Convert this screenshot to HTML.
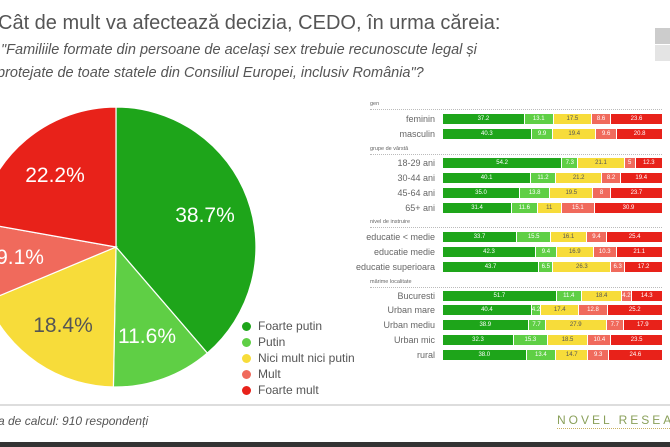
<!DOCTYPE html>
<html><head><meta charset="utf-8"><style>
body{margin:0;width:670px;height:447px;overflow:hidden;background:#fff;font-family:"Liberation Sans",sans-serif;position:relative}
.a{position:absolute;white-space:nowrap}
.t{left:-2px;top:12px;font-size:20px;color:#555}
.s{font-size:14.5px;font-style:italic;color:#555;left:-3px}
.lab{position:absolute;font-size:21px;color:#fff;transform:translate(-50%,-50%)}
.leg{position:absolute;left:242px;font-size:12px;color:#555}
.leg i{display:inline-block;width:9px;height:9px;border-radius:50%;margin-right:7px;vertical-align:-1px}
.h{position:absolute;left:370px;font-size:5.5px;color:#666;width:292px;border-bottom:1px dotted #bbb;padding-bottom:2px}
.r{position:absolute;left:360px;width:303px;height:10px}
.r span.n{position:absolute;right:228px;top:0;font-size:9px;line-height:10px;color:#666;text-align:right;white-space:nowrap}
.bar{position:absolute;left:83px;width:220px;height:10px;display:flex}
.bar div{height:10px;border-right:1px solid #fff;font-size:6px;line-height:10px;text-align:center;color:#fff;box-sizing:border-box;overflow:hidden}
.g{background:#1ea51a}.l{background:#5fcf45}.y{background:#f7dc3a;color:#555!important}.m{background:#f06a5c}.f{background:#e8221a}
</style></head><body>
<div class="a t">Cât de mult va afectează decizia, CEDO, în urma căreia:</div>
<div class="a s" style="top:42px">&nbsp;"Familiile formate din persoane de același sex trebuie recunoscute legal și</div>
<div class="a s" style="top:65px">protejate de toate statele din Consiliul Europei, inclusiv România"?</div>
<div class="a" style="left:655px;top:28px;width:15px;height:16px;background:#ccc"></div>
<div class="a" style="left:655px;top:45px;width:15px;height:16px;background:#e4e4e4"></div>
<svg class="a" style="left:0;top:0" width="670" height="447">
<g stroke="#fff" stroke-width="1.2">
<path d="M116 247 L116 107 A140 140 0 0 1 207.3 353.1Z" fill="#1ea51a"/>
<path d="M116 247 L207.3 353.1 A140 140 0 0 1 113.4 387Z" fill="#5fcf45"/>
<path d="M116 247 L113.4 387 A140 140 0 0 1 -13.2 301Z" fill="#f7dc3a"/>
<path d="M116 247 L-13.2 301 A140 140 0 0 1 -21.8 222.5Z" fill="#f06a5c"/>
<path d="M116 247 L-21.8 222.5 A140 140 0 0 1 116 107Z" fill="#e8221a"/>
</g>
<line x1="0" y1="405" x2="670" y2="405" stroke="#bbb"/>
<rect x="0" y="442" width="670" height="5" fill="#333"/>
</svg>
<div class="lab" style="left:205px;top:216px">38.7%</div>
<div class="lab" style="left:147px;top:337px">11.6%</div>
<div class="lab" style="left:63px;top:326px;color:#555">18.4%</div>
<div class="lab" style="left:20px;top:258px">9.1%</div>
<div class="lab" style="left:55px;top:176px">22.2%</div>
<div class="leg" style="top:319px"><i style="background:#1ea51a"></i>Foarte putin</div>
<div class="leg" style="top:335px"><i style="background:#5fcf45"></i>Putin</div>
<div class="leg" style="top:351px"><i style="background:#f7dc3a"></i>Nici mult nici putin</div>
<div class="leg" style="top:367px"><i style="background:#f06a5c"></i>Mult</div>
<div class="leg" style="top:383px"><i style="background:#e8221a"></i>Foarte mult</div>
<div class="a" style="left:-2px;top:414px;font-size:12px;font-style:italic;color:#555">a de calcul: 910 respondenți</div>
<div class="a" style="left:557px;top:413px;font-size:12px;letter-spacing:3px;color:#8aa05a">NOVEL RESEA</div>
<div class="a" style="left:557px;top:428px;width:113px;border-top:1px dotted #c8b060"></div>

<div class="h" style="top:101px">gen</div>
<div class="h" style="top:146px">grupe de vârstă</div>
<div class="h" style="top:219px">nivel de instruire</div>
<div class="h" style="top:279px">mărime localitate</div>

<div class="r" style="top:114px"><span class="n">feminin</span><div class="bar"><div class="g" style="width:37.2%">37.2</div><div class="l" style="width:13.1%">13.1</div><div class="y" style="width:17.5%">17.5</div><div class="m" style="width:8.6%">8.6</div><div class="f" style="width:23.6%">23.6</div></div></div>
<div class="r" style="top:129px"><span class="n">masculin</span><div class="bar"><div class="g" style="width:40.3%">40.3</div><div class="l" style="width:9.9%">9.9</div><div class="y" style="width:19.4%">19.4</div><div class="m" style="width:9.6%">9.6</div><div class="f" style="width:20.8%">20.8</div></div></div>

<div class="r" style="top:158px"><span class="n">18-29 ani</span><div class="bar"><div class="g" style="width:54.2%">54.2</div><div class="l" style="width:7.3%">7.3</div><div class="y" style="width:21.1%">21.1</div><div class="m" style="width:5%">5</div><div class="f" style="width:12.4%">12.3</div></div></div>
<div class="r" style="top:173px"><span class="n">30-44 ani</span><div class="bar"><div class="g" style="width:40.1%">40.1</div><div class="l" style="width:11.2%">11.2</div><div class="y" style="width:21.2%">21.2</div><div class="m" style="width:8.2%">8.2</div><div class="f" style="width:19.3%">19.4</div></div></div>
<div class="r" style="top:188px"><span class="n">45-64 ani</span><div class="bar"><div class="g" style="width:35%">35.0</div><div class="l" style="width:13.8%">13.8</div><div class="y" style="width:19.5%">19.5</div><div class="m" style="width:8%">8</div><div class="f" style="width:23.7%">23.7</div></div></div>
<div class="r" style="top:203px"><span class="n">65+ ani</span><div class="bar"><div class="g" style="width:31.4%">31.4</div><div class="l" style="width:11.6%">11.6</div><div class="y" style="width:11%">11</div><div class="m" style="width:15.1%">15.1</div><div class="f" style="width:30.9%">30.9</div></div></div>

<div class="r" style="top:232px"><span class="n">educatie &lt; medie</span><div class="bar"><div class="g" style="width:33.7%">33.7</div><div class="l" style="width:15.5%">15.5</div><div class="y" style="width:16.1%">16.1</div><div class="m" style="width:9.4%">9.4</div><div class="f" style="width:25.3%">25.4</div></div></div>
<div class="r" style="top:247px"><span class="n">educatie medie</span><div class="bar"><div class="g" style="width:42.3%">42.3</div><div class="l" style="width:9.4%">9.4</div><div class="y" style="width:16.9%">16.9</div><div class="m" style="width:10.3%">10.3</div><div class="f" style="width:21.1%">21.1</div></div></div>
<div class="r" style="top:262px"><span class="n">educatie superioara</span><div class="bar"><div class="g" style="width:43.7%">43.7</div><div class="l" style="width:6.5%">6.5</div><div class="y" style="width:26.3%">26.3</div><div class="m" style="width:6.3%">6.3</div><div class="f" style="width:17.2%">17.2</div></div></div>

<div class="r" style="top:291px"><span class="n">Bucuresti</span><div class="bar"><div class="g" style="width:51.7%">51.7</div><div class="l" style="width:11.4%">11.4</div><div class="y" style="width:18.4%">18.4</div><div class="m" style="width:4.2%">4.2</div><div class="f" style="width:14.3%">14.3</div></div></div>
<div class="r" style="top:305px"><span class="n">Urban mare</span><div class="bar"><div class="g" style="width:40.4%">40.4</div><div class="l" style="width:4.2%">4.2</div><div class="y" style="width:17.4%">17.4</div><div class="m" style="width:12.8%">12.8</div><div class="f" style="width:25.2%">25.2</div></div></div>
<div class="r" style="top:320px"><span class="n">Urban mediu</span><div class="bar"><div class="g" style="width:38.9%">38.9</div><div class="l" style="width:7.7%">7.7</div><div class="y" style="width:27.9%">27.9</div><div class="m" style="width:7.6%">7.7</div><div class="f" style="width:17.9%">17.9</div></div></div>
<div class="r" style="top:335px"><span class="n">Urban mic</span><div class="bar"><div class="g" style="width:32.3%">32.3</div><div class="l" style="width:15.3%">15.3</div><div class="y" style="width:18.5%">18.5</div><div class="m" style="width:10.4%">10.4</div><div class="f" style="width:23.5%">23.5</div></div></div>
<div class="r" style="top:350px"><span class="n">rural</span><div class="bar"><div class="g" style="width:38%">38.0</div><div class="l" style="width:13.4%">13.4</div><div class="y" style="width:14.7%">14.7</div><div class="m" style="width:9.3%">9.3</div><div class="f" style="width:24.6%">24.6</div></div></div>
</body></html>
